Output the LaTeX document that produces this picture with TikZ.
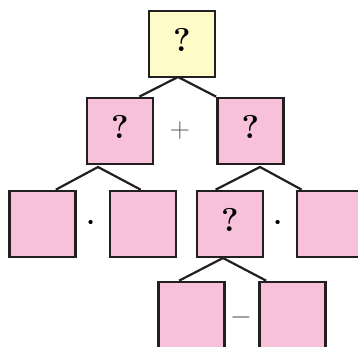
\RequirePackage{fix-cm}
\documentclass[tikz,border=0pt]{standalone}
\usepackage{xcolor}
\definecolor{rosa}{RGB}{247,193,218}
\definecolor{amarillo}{RGB}{255,251,200}
\definecolor{negro}{RGB}{35,31,32}
\definecolor{gris}{RGB}{90,90,90}

\tikzset{
  caja/.style={draw=negro, line width=2.7pt, fill=rosa, minimum size=66pt, inner sep=0pt,
    text depth=9pt, font=\fontsize{33}{36}\selectfont\bfseries},
  rama/.style={draw=negro, line width=2.2pt},
  signo/.style={inner sep=0pt, font=\fontsize{28}{30}\selectfont},
  punto/.style={inner sep=0pt, font=\fontsize{40}{40}\selectfont}
}

\begin{document}
\begin{tikzpicture}[x=1pt, y=-1pt]
  \useasboundingbox (0,0) rectangle (358,346);
  \clip (0,0) rectangle (358,346);

  % cajas
  \node[caja, fill=amarillo] (raiz) at (182,44) {?};
  \node[caja] (sumaIzq) at (120,131) {?};
  \node[caja] (sumaDer) at (250.5,131) {?};
  \node[caja] (prodA) at (42.5,224) {};
  \node[caja] (prodB) at (143,224) {};
  \node[caja] (prodC) at (230,224) {?};
  \node[caja] (prodD) at (330,224) {};
  \node[caja] (restaA) at (191.5,315) {};
  \node[caja] (restaB) at (292.5,315) {};

  % signos
  \node[signo, text=gris] (mas) at (180,130) {$+$};
  \node[punto] (por1) at (91,224) {$\cdot$};
  \node[punto] (por2) at (278,224) {$\cdot$};
  \node[signo, text=gris] (menos) at (241,317) {$-$};

  % ramas
  \coordinate (v0) at (178,77);
  \coordinate (v1) at (98,167);
  \coordinate (v2) at (260,167);
  \coordinate (v3) at (223,258);
  \draw[rama] ([xshift=-15pt]sumaIzq.north east) -- (v0) -- (sumaDer.north west);
  \draw[rama] ([xshift=-21pt]prodA.north east) -- (v1) -- ([xshift=32pt]prodB.north west);
  \draw[rama] ([xshift=20pt]prodC.north west) -- (v2) -- ([xshift=6pt]prodD.north west);
  \draw[rama] ([xshift=22pt]restaA.north west) -- (v3) -- ([xshift=8pt]restaB.north west);
\end{tikzpicture}
\end{document}
